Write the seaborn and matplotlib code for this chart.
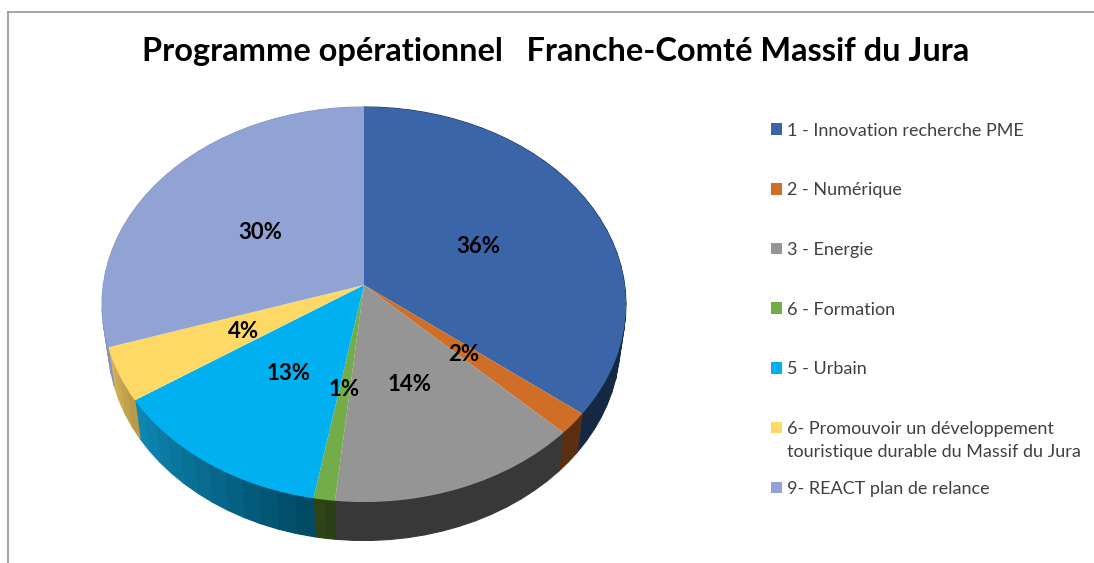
import numpy as np
import matplotlib
matplotlib.use("Agg")
import matplotlib.pyplot as plt
from matplotlib.transforms import Transform
from matplotlib.patches import Patch
import seaborn as sns

title = "Programme opérationnel   Franche-Comté Massif du Jura"
labels = ["1 - Innovation recherche PME", "2 - Numérique", "3 - Energie", "6 - Formation",
          "5 - Urbain", "6- Promouvoir un développement", "9- REACT plan de relance"]
label_second_line = "touristique durable du Massif du Jura"
values = [35.6, 1.8, 14.2, 1.2, 12.8, 4.4, 30.0]

top_colors = ["#3A65A9", "#D06E27", "#959595", "#72AD4A", "#00B0F0", "#FFD966", "#91A3D5"]
wall_left = ["#1A3050", "#5A2E10", "#383838", "#2F4317", "#0E86B2", "#D2B159", "#8794BC"]
wall_right = ["#142844", "#5A2E10", "#383838", "#2B3F14", "#004A66", "#B89A48", "#8794BC"]

W, H = 1094, 563
CX, CY = 364.0, 285.0  # apex of the pie, in pixels
A, B, K = 195.6, 260.7, 0.0987
DEPTH, SHRINK = 38.5, 0.977


class Tilt(Transform):
    # unit pie -> tilted ellipse in pixel coordinates
    input_dims = output_dims = 2

    def transform_non_affine(self, values):
        xy = np.asarray(values, dtype=float)
        w = 1 + K * xy[:, 1]
        return np.column_stack([CX + B * xy[:, 0] / w, CY - A * xy[:, 1] / w])


sns.set_theme(style="white")
plt.rcParams["font.family"] = ["Lato", "DejaVu Sans"]

fig = plt.figure(figsize=(W / 100, H / 100), dpi=100)

# frame of the original chart area, only top and left are in the crop
frame = fig.add_axes([8 / W, 0, 1 - 8 / W, 1 - 12 / H])
frame.set(xticks=[], yticks=[])
frame.spines[["right", "bottom"]].set_visible(False)
frame.spines[["left", "top"]].set_color("#8c8c8c")
frame.spines[["left", "top"]].set_linewidth(1.1)

ax = fig.add_axes([0, 0, 1, 1])
ax.patch.set_visible(False)

tilt = Tilt()
palette = sns.color_palette(top_colors)
wedges, _, autotexts = ax.pie(values, colors=palette, startangle=90, counterclock=False,
                              autopct="%.0f%%", pctdistance=0.5, radius=1,
                              textprops={"fontsize": 16, "fontweight": "bold", "color": "black"})
ax.set_xlim(0, W)
ax.set_ylim(H, 0)
ax.set_aspect("auto")
ax.axis("off")

for w in wedges:
    w.set_transform(tilt + ax.transData)
    w.set_zorder(3)
    w.set_linewidth(0)
for t in autotexts:
    x, y = tilt.transform_non_affine(np.array([t.get_position()]))[0]
    t.set_position((x - 1, y + 3))
    t.set_zorder(5)

# side wall, a strip of quads under the rim of each slice
edges = np.cumsum([0] + values) / np.sum(values) * 2 * np.pi
for i in range(len(values)):
    n = max(int((edges[i + 1] - edges[i]) * 16), 2)
    th = np.linspace(edges[i], edges[i + 1], n + 1)
    rim = tilt.transform_non_affine(np.column_stack([np.sin(th), np.cos(th)]))
    low = np.column_stack([CX + (rim[:, 0] - CX) * SHRINK, rim[:, 1] + DEPTH])
    c0 = np.array(matplotlib.colors.to_rgb(wall_left[i]))
    c1 = np.array(matplotlib.colors.to_rgb(wall_right[i]))
    for j in range(n):
        # wall colours run from left to right on the picture
        f = j / max(n - 1, 1)
        if rim[0, 0] > rim[-1, 0]:
            f = 1 - f
        col = c0 + (c1 - c0) * f
        ax.fill([rim[j, 0], rim[j + 1, 0], low[j + 1, 0], low[j, 0]],
                [rim[j, 1], rim[j + 1, 1], low[j + 1, 1], low[j, 1]],
                color=col, lw=0.8, zorder=2)

handles = [Patch(facecolor=c, edgecolor="none") for c in palette]
leg = ax.legend(handles, labels, loc="upper left", bbox_to_anchor=(771 / W, 1 - 122.5 / H),
                frameon=False, fontsize=13, labelspacing=2.42, handlelength=0.6, handleheight=0.6,
                handletextpad=0.28, labelcolor="#404040", borderpad=0, borderaxespad=0)
ax.text(787, 452, label_second_line, fontsize=13, color="#404040", va="center", ha="left", zorder=5)

ax.text(555.5, 51.5, title, fontsize=23.4, fontweight="bold", color="black", ha="center", va="center", zorder=5)

fig.savefig("out.png", dpi=100)
